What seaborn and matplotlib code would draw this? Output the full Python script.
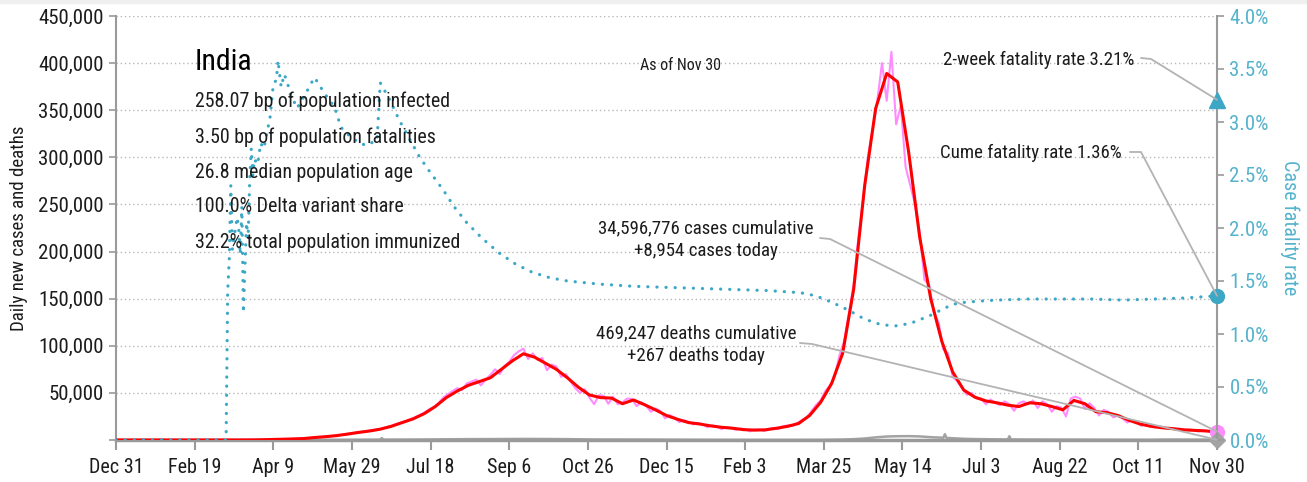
import numpy as np
import pandas as pd
import matplotlib
matplotlib.use("Agg")
import matplotlib.pyplot as plt
from matplotlib.lines import Line2D
from matplotlib.patches import Rectangle
from matplotlib.ticker import FuncFormatter
import seaborn as sns

START = pd.Timestamp("2019-12-31")
END = pd.Timestamp("2021-11-30")

# 7-day average of daily new cases, one value per week, last one on Nov 30 2021
cases_avg_weekly = [
    0, 0, 0, 0, 0, 0, 0, 0, 0, 5,
    10, 20, 60, 180, 500, 800, 1100, 1500, 2600, 3500,
    4600, 6200, 8000, 9500, 11500, 14500, 18500, 22500, 28000, 35500,
    45000, 52000, 58000, 62000, 66000, 75000, 84000, 91500, 88000, 81500,
    75000, 66000, 56000, 47800, 45000, 44500, 38500, 42500, 37500, 32000,
    26000, 22000, 18500, 17000, 15000, 13500, 12500, 11000, 10500, 10800,
    12500, 14500, 17500, 26000, 40000, 60000, 92000, 160000, 270000, 352000,
    389000, 380000, 305000, 215000, 150000, 105000, 72000, 53000, 45500, 41500,
    39500, 37000, 35500, 39500, 38500, 35500, 32000, 42000, 38500, 30000,
    29000, 26000, 21000, 17000, 14500, 13000, 12000, 10800, 10200, 9600,
    8500,
]

# reported daily new cases, every third day, last one on Nov 30 2021
cases_daily_3d = [
    3, 5, 10, 12, 15, 22, 30, 55, 70, 140,
    230, 300, 500, 600, 750, 850, 1000, 1100, 1300, 1500,
    1800, 2300, 2700, 3200, 3600, 3900, 4600, 5200, 6000, 6600,
    7300, 8200, 8800, 9600, 10300, 11000, 12000, 13600, 14900, 16900,
    18500, 19900, 22000, 24000, 26500, 29000, 32500, 34900, 38900, 45000,
    48500, 52000, 55000, 53000, 60000, 62000, 64000, 58000, 64000, 69000,
    75000, 70000, 78500, 83000, 90000, 94000, 97000, 86000, 92000, 85000,
    87000, 74000, 80000, 78000, 67000, 70000, 62000, 55000, 50000, 54000,
    45000, 38000, 47500, 47000, 38500, 46000, 38000, 40000, 44000, 43500,
    36000, 40000, 36500, 30000, 33500, 31000, 23000, 26500, 24000, 19000,
    20800, 19500, 16500, 18000, 16800, 13500, 15500, 14500, 11500, 13800,
    13000, 10800, 12000, 11500, 9200, 11000, 11200, 9500, 11800, 12800,
    11500, 14500, 15500, 15000, 18000, 21000, 24000, 30000, 37000, 42000,
    52000, 58000, 68000, 90000, 105000, 135000, 165000, 215000, 255000, 300000,
    330000, 360000, 400000, 360000, 412000, 335000, 355000, 290000, 270000, 250000,
    220000, 170000, 165000, 135000, 125000, 96000, 92000, 67000, 62000, 55000,
    48000, 50000, 44000, 44000, 38000, 43000, 39500, 37000, 41000, 38000,
    31000, 39000, 41000, 38000, 42000, 34000, 41000, 38000, 30000, 36000,
    34500, 25000, 44000, 46000, 44000, 33000, 39000, 34000, 26000, 32000,
    30000, 24000, 26000, 23000, 18500, 21000, 19000, 15000, 17500, 15000,
    13500, 14800, 12500, 12800, 11500, 12000, 10200, 11000, 10500, 9000,
    10200, 9500, 8500, 8954,
]

# daily deaths, one value per week, last one on Nov 30 2021
deaths_weekly = [
    0, 0, 0, 0, 0, 0, 0, 0, 0, 0,
    0, 1, 3, 8, 25, 35, 40, 55, 90, 110,
    130, 160, 220, 300, 350, 380, 420, 480, 550, 650,
    750, 850, 920, 960, 980, 1050, 1100, 1150, 1120, 1080,
    1000, 900, 750, 600, 520, 500, 480, 470, 450, 400,
    350, 300, 260, 220, 190, 160, 140, 120, 100, 95,
    95, 100, 110, 130, 180, 300, 500, 900, 1600, 2800,
    3700, 4000, 4100, 3800, 3000, 2500, 1900, 1300, 1000, 850,
    700, 600, 550, 500, 480, 450, 420, 400, 350, 300,
    290, 280, 250, 230, 200, 400, 450, 400, 350, 300,
    267,
]
# single-day backlog reconciliations
death_spike_dates = ["2020-06-16", "2020-06-17", "2020-06-18",
                     "2021-06-09", "2021-06-10", "2021-06-11",
                     "2021-07-20", "2021-07-21", "2021-07-22"]
death_spike_values = [360, 2003, 360,
                      2300, 6148, 2200,
                      620, 3998, 600]

# cumulative case fatality rate (%), by days since Dec 31 2019
cfr_days = [0, 70, 71, 72, 73, 74, 75, 76, 77, 78, 79, 80, 81, 82, 83, 84, 85, 86, 87, 88,
            90, 92, 94, 96, 98, 100, 102, 103,
            105, 107, 109, 111, 113, 115, 118, 121, 124, 126, 128, 130,
            134, 139, 143, 149, 155, 159, 162, 166, 168, 174, 180, 187, 193, 200, 208,
            215, 223, 233, 244, 254, 265, 276, 287, 308, 329, 350, 371, 392, 414, 435,
            445, 455, 465, 476, 486, 495, 505, 517, 525, 532, 540, 549,
            560, 580, 600, 620, 640, 660, 680, 700]
cfr_pct = [0, 0, 1.40, 1.70, 2.40, 1.80, 1.90, 2.00, 2.10, 2.00, 1.75, 2.20, 1.20, 1.65, 2.05, 1.90, 2.45, 2.75, 2.50, 2.65,
           2.60, 2.80, 2.75, 2.90, 3.05, 3.35, 3.40, 3.58,
           3.33, 3.45, 3.37, 3.25, 3.20, 3.13, 3.20, 3.28, 3.36, 3.42, 3.38, 3.33,
           3.24, 3.14, 2.95, 2.86, 2.80, 2.78, 2.80, 2.83, 3.37, 3.21, 3.02, 2.83, 2.67, 2.52, 2.36,
           2.20, 2.05, 1.90, 1.76, 1.66, 1.58, 1.53, 1.50, 1.47, 1.45, 1.44, 1.43, 1.42, 1.41, 1.39,
           1.36, 1.30, 1.23, 1.14, 1.09, 1.075, 1.10, 1.17, 1.23, 1.28, 1.30, 1.31,
           1.32, 1.33, 1.33, 1.33, 1.32, 1.33, 1.34, 1.36]

cases_total = 34596776
deaths_total = 469247
cases_today = 8954
deaths_today = 267
cfr_cume = 1.36
cfr_2wk = 3.21

country = "India"
profile_lines = [
    "258.07 bp of population infected",
    "3.50 bp of population fatalities",
    "26.8 median population age",
    "100.0% Delta variant share",
    "32.2% total population immunized",
]
profile_y = [101, 137, 172, 207, 242]

RED = "#ff0000"
PINK = "#ff8cff"
GRAY = "#a3a3a3"
CYAN = "#3ca8c6"
CYAN_TXT = "#55b3cc"
INK = "#1c1c1c"
AXIS = "#9a9a9a"

sns.set_style("white")
plt.rcParams["font.family"] = ["Roboto Condensed", "Liberation Sans Narrow",
                               "Open Sans Condensed", "DejaVu Sans"]
plt.rcParams["font.stretch"] = "condensed"

W, H = 1307, 482
fig = plt.figure(figsize=(W / 100, H / 100), dpi=100)
fig.patches.append(Rectangle((0, 1 - 3 / H), 1, 3 / H, transform=fig.transFigure,
                             color="#efefef", zorder=0))
ax = fig.add_axes([116 / W, 1 - 440 / H, 1101 / W, 424 / H])
ax2 = ax.twinx()


def px(x, y):
    return x / W, 1 - y / H


daily = pd.DataFrame({"date": pd.date_range(end=END, periods=len(cases_daily_3d), freq="3D"),
                      "cases": cases_daily_3d})
avg = pd.DataFrame({"date": pd.date_range(end=END, periods=len(cases_avg_weekly), freq="7D"),
                    "cases": cases_avg_weekly})
deaths = pd.concat([
    pd.DataFrame({"date": pd.date_range(end=END, periods=len(deaths_weekly), freq="7D"),
                  "deaths": deaths_weekly}),
    pd.DataFrame({"date": pd.to_datetime(death_spike_dates), "deaths": death_spike_values}),
]).sort_values("date")
cfr = pd.DataFrame({"date": START + pd.to_timedelta(cfr_days, unit="D"), "cfr": cfr_pct})

sns.lineplot(data=deaths, x="date", y="deaths", ax=ax, color=GRAY, lw=1.8, zorder=2)
sns.lineplot(data=daily, x="date", y="cases", ax=ax, color=PINK, lw=1.5, zorder=3)
sns.lineplot(data=avg, x="date", y="cases", ax=ax, color=RED, lw=2.2, zorder=4)
sns.lineplot(data=cfr, x="date", y="cfr", ax=ax2, color=CYAN, lw=2.3,
             linestyle=(0, (0.05, 2.8)), dash_capstyle="round", zorder=3)

ax.set_xlim(START, END)
ax.set_ylim(0, 450000)
ax2.set_ylim(0, 4.0)

ax.set_yticks(np.arange(0, 450001, 50000))
ax.yaxis.set_major_formatter(FuncFormatter(lambda v, p: "" if v == 0 else f"{int(v):,}"))
ax2.set_yticks(np.arange(0, 4.01, 0.5))
ax2.yaxis.set_major_formatter(FuncFormatter(lambda v, p: f"{v:.1f}%"))
xt = pd.date_range(START, END, freq="50D")
ax.set_xticks(xt)
ax.set_xticklabels([f"{d:%b} {d.day}" for d in xt])

ax.yaxis.grid(True, linestyle=(0, (1, 2)), color="#b8b8b8", lw=1)
ax.xaxis.grid(False)
ax2.grid(False)

for s in ("top", "right"):
    ax.spines[s].set_visible(False)
for s in ("top", "left", "bottom"):
    ax2.spines[s].set_visible(False)
ax.spines["left"].set_color(AXIS)
ax.spines["left"].set_linewidth(1.5)
ax.spines["bottom"].set_color(AXIS)
ax.spines["bottom"].set_linewidth(2.5)
ax2.spines["right"].set_color(AXIS)
ax2.spines["right"].set_linewidth(1.5)

ax.tick_params(axis="y", direction="out", length=5, width=1.2, color=AXIS,
               labelsize=15, labelcolor=INK, pad=4, left=True)
ax.tick_params(axis="x", direction="out", length=7, width=1.5, color=AXIS,
               labelsize=14.5, labelcolor=INK, pad=6, bottom=True)
ax2.tick_params(axis="y", direction="out", length=5, width=1.2, color=AXIS,
                labelsize=15, labelcolor=CYAN_TXT, pad=4, right=True)

ax.set_xlabel("")
ax.set_ylabel("Daily new cases and deaths", fontsize=13.6, color=INK,
              va="center", ha="center")
ax.yaxis.set_label_coords((19 - 116) / 1101, 0.5)
ax2.set_ylabel("Case fatality rate", fontsize=14.5, color=CYAN_TXT, rotation=270,
               va="center", ha="center")
ax2.yaxis.set_label_coords((1290 - 116) / 1101, 0.5)

# end-of-series markers
ax.plot([END], [cases_today], "o", ms=10, color=PINK, clip_on=False, zorder=6)
ax.plot([END], [deaths_today], "D", ms=8, color=GRAY, clip_on=False, zorder=6)
ax2.plot([END], [cfr_2wk], "^", ms=11, color=CYAN, clip_on=False, zorder=6)
ax2.plot([END], [cfr_cume], "o", ms=10, color=CYAN, clip_on=False, zorder=6)

# profile block
fig.text(*px(195, 62), country, fontsize=21.5, color="black", ha="left", va="center")
for line, yy in zip(profile_lines, profile_y):
    fig.text(*px(195, yy), line, fontsize=14.3, color=INK, ha="left", va="center")
fig.text(*px(681, 66), "As of Nov 30", fontsize=11.5, color=INK, ha="center", va="center")

# callouts with leader lines
fig.text(*px(1134, 60), f"2-week fatality rate {cfr_2wk:.2f}%", fontsize=13.6, color=INK,
         ha="right", va="center")
fig.text(*px(1122, 153), f"Cume fatality rate {cfr_cume:.2f}%", fontsize=13.6, color=INK,
         ha="right", va="center")
fig.text(*px(706, 239.5), f"{cases_total:,} cases cumulative\n+{cases_today:,} cases today",
         fontsize=13.6, color=INK, ha="center", va="center", multialignment="center",
         linespacing=1.33)
fig.text(*px(696, 344.5), f"{deaths_total:,} deaths cumulative\n+{deaths_today:,} deaths today",
         fontsize=13.6, color=INK, ha="center", va="center", multialignment="center",
         linespacing=1.33)

end_num = matplotlib.dates.date2num(END)
inv = fig.transFigure.inverted()


def leader(start_px, knee_px, axis, yval):
    tx, ty = inv.transform(axis.transData.transform((end_num, yval)))
    p0 = px(*start_px)
    p1 = px(*knee_px)
    fig.add_artist(Line2D([p0[0], p1[0], tx], [p0[1], p1[1], ty], transform=fig.transFigure,
                          color="#b3b3b3", lw=1.3, zorder=5))


leader((1141, 58), (1151, 59), ax2, cfr_2wk)
leader((1130, 152), (1141, 152), ax2, cfr_cume)
leader((820, 238), (830, 239), ax, cases_today)
leader((800, 343), (812, 344), ax, deaths_today)

fig.savefig("out.png", dpi=100)
